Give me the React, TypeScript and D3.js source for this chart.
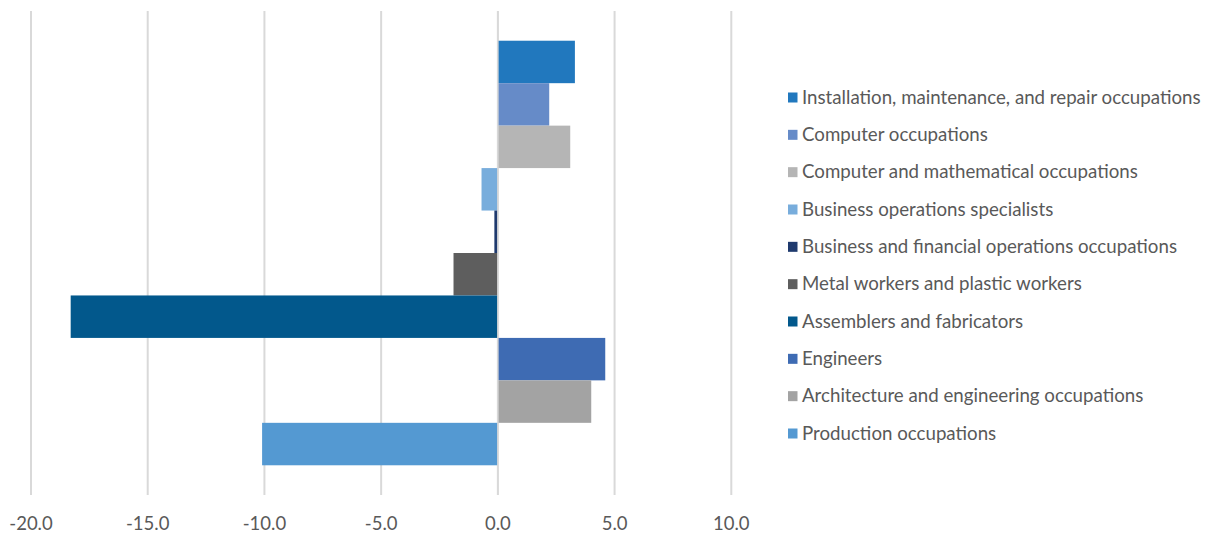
import React from "react";
import * as d3 from "d3";

const categories: string[] = [
  "Installation, maintenance, and repair occupations",
  "Computer occupations",
  "Computer and mathematical occupations",
  "Business operations specialists",
  "Business and financial operations occupations",
  "Metal workers and plastic workers",
  "Assemblers and fabricators",
  "Engineers",
  "Architecture and engineering occupations",
  "Production occupations",
];

const values: number[] = [3.3, 2.2, 3.1, -0.7, -0.15, -1.9, -18.3, 4.6, 4.0, -10.1];

const colors: string[] = [
  "#2178be",
  "#668bc8",
  "#b5b5b5",
  "#78addc",
  "#1f3a6e",
  "#5e5e5e",
  "#02588c",
  "#3e6bb3",
  "#a3a3a3",
  "#5499d2",
];

const xTicks: number[] = [-20, -15, -10, -5, 0, 5, 10];

const W = 1211;
const H = 538;
const FONT = "Lato, 'Noto Sans', sans-serif";
const TEXT = "#595959";

export default function App() {
  const x = d3.scaleLinear().domain([-20, 10]).range([31, 731.3]);
  const y = d3
    .scaleBand<string>()
    .domain(categories)
    .range([11, 495])
    .paddingInner(0)
    .paddingOuter(0.7);

  const legendY = d3
    .scalePoint<string>()
    .domain(categories)
    .range([97, 433]);

  return (
    <svg
      width={W}
      height={H}
      style={{ position: "absolute", left: 0, top: 0, background: "#fff" }}
    >
      {xTicks.map((t) => (
        <line
          key={"g" + t}
          x1={x(t)}
          x2={x(t)}
          y1={11}
          y2={495}
          stroke="#d9d9d9"
          strokeWidth={2}
        />
      ))}
      {categories.map((c, i) => {
        const v = values[i];
        const x0 = x(Math.min(0, v));
        const x1 = x(Math.max(0, v));
        return (
          <rect
            key={"b" + c}
            x={x0}
            y={y(c)!}
            width={x1 - x0}
            height={y.bandwidth()}
            fill={colors[i]}
          />
        );
      })}
      <line
        x1={x(0)}
        x2={x(0)}
        y1={11}
        y2={495}
        stroke="#d9d9d9"
        strokeWidth={1.5}
      />
      {xTicks.map((t) => (
        <text
          key={"t" + t}
          x={x(t)}
          y={530}
          textAnchor="middle"
          fontFamily={FONT}
          fontSize={18.5}
          fill={TEXT}
        >
          {d3.format(".1f")(t).replace("−", "-")}
        </text>
      ))}
      {categories.map((c, i) => {
        const cy = legendY(c)!;
        return (
          <g key={"l" + c}>
            <rect x={788} y={cy - 4.5} width={9.5} height={10} fill={colors[i]} />
            <text
              x={802}
              y={cy + 6.5}
              fontFamily={FONT}
              fontSize={18.7}
              fill={TEXT}
            >
              {c}
            </text>
          </g>
        );
      })}
    </svg>
  );
}
